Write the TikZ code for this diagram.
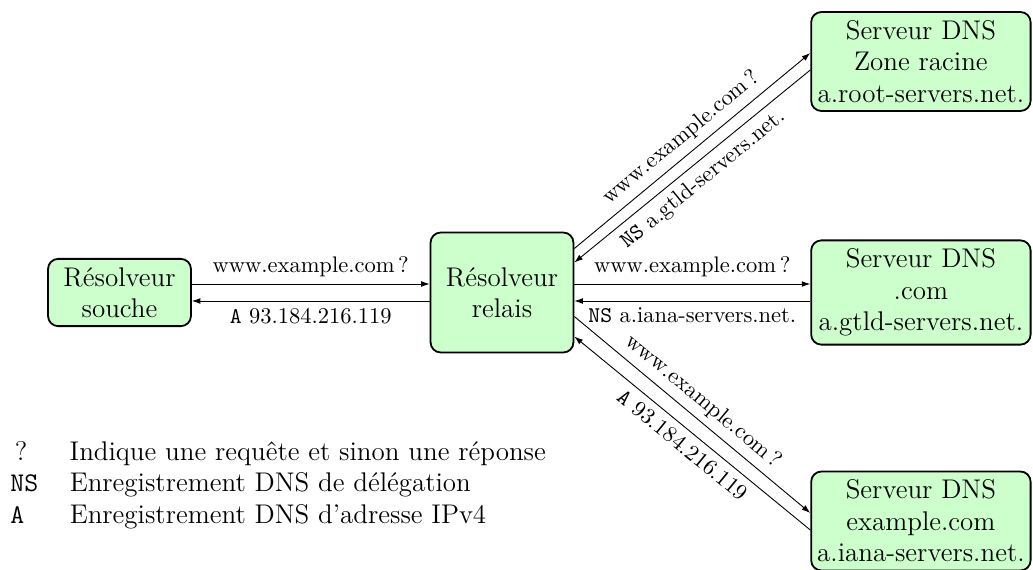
\documentclass[tikz,border=0pt]{standalone}
\usetikzlibrary{arrows.meta,calc}
\definecolor{boxgreen}{HTML}{CCFFCC}
\begin{document}
\begin{tikzpicture}[x=0.4444pt,y=-0.4444pt,
  box/.style={draw=black, fill=boxgreen, rounded corners=4.5pt, line width=0.8pt, align=center, font=\large, inner sep=3.7pt},
  resolver/.style={box, minimum width=63.5pt},
  server/.style={box, inner xsep=1.5pt, minimum width=97.5pt, anchor=east},
  msg/.style={-{Latex[length=3.8pt,width=2.6pt]}, line width=0.4pt},
  msgback/.style={{Latex[length=3.8pt,width=2.6pt]}-, line width=0.4pt},
  lbl/.style={font=\normalsize, inner sep=3pt}]
\useasboundingbox (0,0) rectangle (1033,570);
\node[resolver] (souche) at (119.5,292.5) {Résolveur\\souche};
\node[resolver, minimum height=53.3pt] (relais) at (502,292.5) {Résolveur\\relais};
\node[server] (root) at (1031.5,61.5) {Serveur DNS\\Zone racine\\a.root-servers.net.};
\node[server] (com) at (1031.5,292.5) {Serveur DNS\\.com\\a.gtld-servers.net.};
\node[server] (ex) at (1031.5,521) {Serveur DNS\\example.com\\a.iana-servers.net.};

\draw[msg] ($(souche.east)+(0,-8.5)$) -- ($(relais.west)+(0,-8.5)$) node[midway, above, lbl] {www.example.com\,?};
\draw[msgback] ($(souche.east)+(0,8.5)$) -- ($(relais.west)+(0,8.5)$) node[midway, below, lbl] {\texttt{A} 93.184.216.119};

\draw[msg] ($(relais.east)+(0,-8.5)$) -- ($(com.west)+(0,-8.5)$) node[midway, above, lbl] {www.example.com\,?};
\draw[msgback] ($(relais.east)+(0,8.5)$) -- ($(com.west)+(0,8.5)$) node[midway, below, lbl] {\texttt{NS} a.iana-servers.net.};

\draw[msg] ($(relais.east)+(0,-44)$) -- ($(root.west)+(0,-8.5)$) node[midway, above, sloped, lbl] {www.example.com\,?};
\draw[msgback] ($(relais.east)+(0,-30)$) -- ($(root.west)+(0,8.5)$) node[midway, below, sloped, lbl] {\texttt{NS} a.gtld-servers.net.};

\draw[msg] ($(relais.east)+(0,24)$) -- ($(ex.west)+(0,-8)$) node[midway, above, sloped, lbl] {www.example.com\,?};
\draw[msgback] ($(relais.east)+(0,44)$) -- ($(ex.west)+(0,9)$) node[midway, below, sloped, lbl] {\texttt{A} 93.184.216.119};

\node[anchor=base west, inner sep=0pt, font=\large] (legend) at (10,460) {\begin{tabular}[t]{@{}l@{\hspace{14pt}}l@{}}\,? & Indique une requête et sinon une réponse\\ \texttt{NS} & Enregistrement DNS de délégation\\ \texttt{A} & Enregistrement DNS d’adresse IPv4\end{tabular}};
\end{tikzpicture}
\end{document}
